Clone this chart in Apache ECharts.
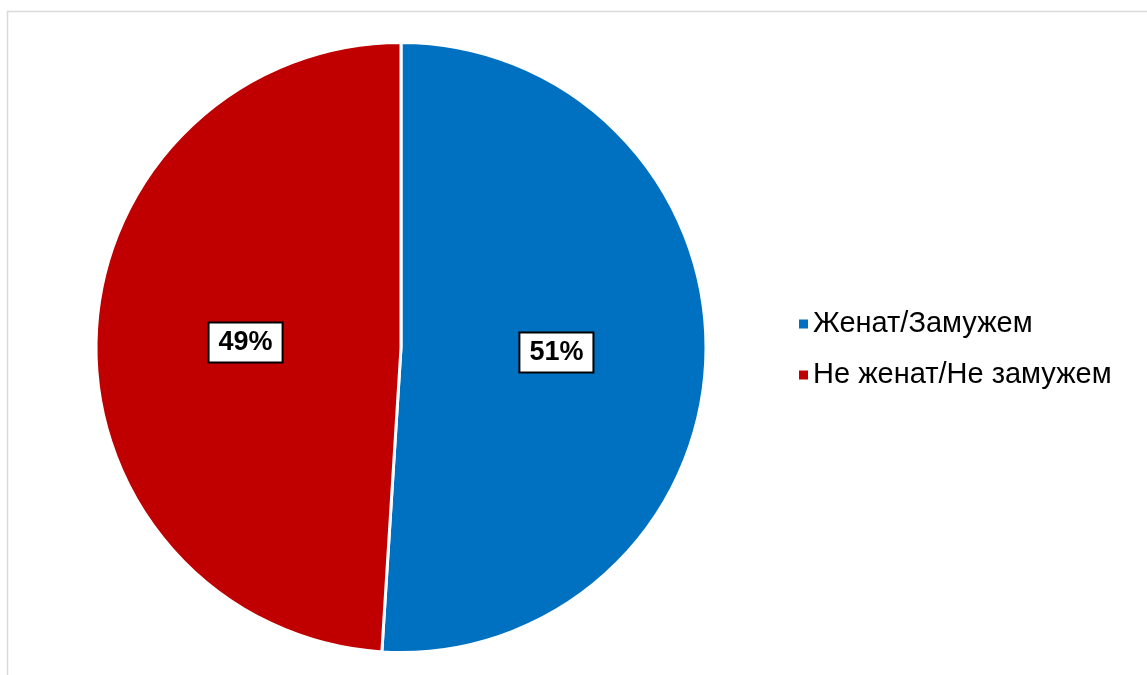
<!DOCTYPE html>
<html>
<head>
<meta charset="utf-8">
<style>
  html, body { margin: 0; padding: 0; background: #fff; }
  #chart { width: 1147px; height: 675px; }
</style>
<script src="https://cdn.jsdelivr.net/npm/echarts@6/dist/echarts.min.js"></script>
</head>
<body>
<div id="chart"></div>
<script>
// Marital status shares
const categories = ['Женат/Замужем', 'Не женат/Не замужем'];
const shares = [51, 49];
const colors = ['#0070C0', '#C00000'];

const chart = echarts.init(document.getElementById('chart'), null, { renderer: 'canvas' });

chart.setOption({
  animation: false,
  backgroundColor: '#ffffff',
  color: colors,
  graphic: [{
    type: 'rect',
    shape: { x: 7.5, y: 11.5, width: 1200, height: 700 },
    style: { fill: 'none', stroke: '#d9d9d9', lineWidth: 1.5 },
    silent: true
  }],
  legend: {
    orient: 'vertical',
    left: 794,
    top: 304,
    icon: 'rect',
    itemWidth: 9,
    itemHeight: 9,
    itemGap: 21,
    itemStyle: { borderWidth: 0 },
    textStyle: {
      fontFamily: 'Liberation Sans, Arial, sans-serif',
      fontSize: 29,
      lineHeight: 30,
      color: '#000'
    },
    data: categories
  },
  series: [{
    type: 'pie',
    center: [401, 347.5],
    radius: 305,
    startAngle: 90,
    clockwise: true,
    label: {
      show: true,
      position: 'inside',
      formatter: p => p.value + '%',
      fontFamily: 'Liberation Sans, Arial, sans-serif',
      fontWeight: 'bold',
      fontSize: 27,
      lineHeight: 30,
      color: '#000',
      backgroundColor: '#fff',
      borderColor: '#000',
      borderWidth: 2,
      padding: [5, 9, 3, 9]
    },
    labelLine: { show: false },
    itemStyle: { borderColor: '#fff', borderWidth: 3 },
    emphasis: { disabled: true },
    data: categories.map((name, i) => ({ name, value: shares[i] }))
  }]
});
</script>
</body>
</html>
